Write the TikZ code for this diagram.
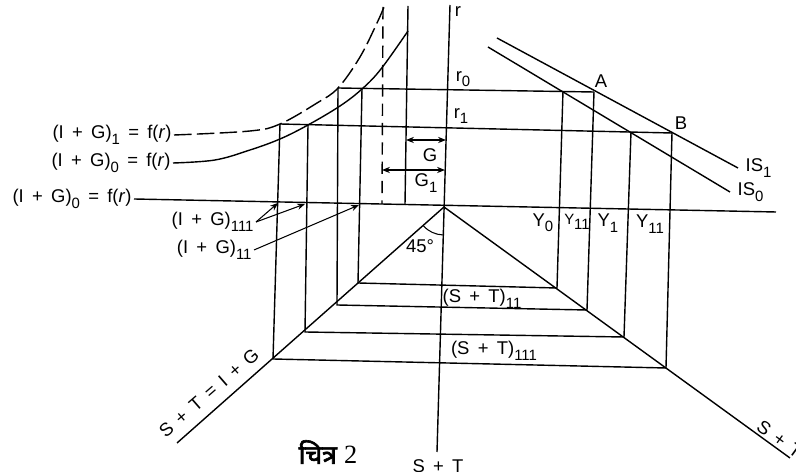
\documentclass[tikz,border=0pt]{standalone}
\usepackage{fontspec}
\setmainfont{Liberation Sans}
\newfontfamily\devfont[Script=Devanagari, AutoFakeBold=2.5]{Noto Sans}
\newfontfamily\capfont{Liberation Serif}
\usetikzlibrary{positioning, arrows.meta}

\newcommand{\lo}[1]{\raisebox{-0.55ex}{\fontsize{8.5}{9}\selectfont #1}}
\newcommand{\lblfont}{\fontsize{10.5}{12}\selectfont\spaceskip=0.45em plus 0.1em\relax}

\begin{document}
\begin{tikzpicture}[x=0.02cm, y=-0.02cm, line width=0.8pt,
  lbl/.style={font=\lblfont, inner sep=1pt},
  dbl/.style={{Stealth[length=4.5pt,width=3.5pt]}-{Stealth[length=4.5pt,width=3.5pt]}, line width=0.7pt},
  ptr/.style={-{Stealth[length=4.5pt,width=3.5pt]}, line width=0.6pt}]
\useasboundingbox (0,0) rectangle (796,472);

\coordinate (O) at (444,207);
\coordinate (rtop) at (450,5);
\coordinate (rbot) at (437,452);
\coordinate (yend) at (776,212);
\coordinate (lend) at (177,443);
\coordinate (rend) at (790,458);

\coordinate (t1) at (362,89);
\coordinate (t2) at (338,88);
\coordinate (t3) at (308,125);
\coordinate (t4) at (280,124);
\coordinate (p1) at (358,283);
\coordinate (p2) at (337,305);
\coordinate (p3) at (305,332);
\coordinate (p4) at (273,359);

\coordinate (u1) at (563,91);
\coordinate (A) at (594,92);
\coordinate (u3) at (631,132);
\coordinate (B) at (672,133);
\coordinate (q1) at (557,288);
\coordinate (q2) at (587,310);
\coordinate (q3) at (624,337);
\coordinate (q4) at (666,368);

\coordinate (is1s) at (497,38);
\coordinate (is1e) at (738,168);
\coordinate (is0s) at (488,47);
\coordinate (is0e) at (730,192);

\coordinate (dtop) at (383,7);
\coordinate (dbot) at (382,204);
\coordinate (gtop) at (408,6);
\coordinate (gbot) at (405,205);
\coordinate (ga) at (406,140);
\coordinate (gb) at (446,140);
\coordinate (g1a) at (382,170);
\coordinate (g1b) at (445,170);
\coordinate (c4) at (278,203);
\coordinate (c3) at (305,204);
\coordinate (c1) at (359,205);

\node[lbl, anchor=east] (fIG1) at (174,135) {(I + G)\lo{1} = f(\textit{r})};
\node[lbl, anchor=east] (fIG0) at (173,163) {(I + G)\lo{0} = f(\textit{r})};
\node[lbl, anchor=east] (fIG0b) at (134,199) {(I + G)\lo{0} = f(\textit{r})};
\node[lbl, anchor=east] (IG111) at (256,222) {(I + G)\lo{111}};
\node[lbl, anchor=east] (IG11) at (254,250) {(I + G)\lo{11}};

\draw (rtop) -- (rbot);
\draw (fIG0b.east) -- (yend);
\draw (O) -- (lend);
\draw (O) -- (rend);

\draw (t2) -- (A);
\draw (t4) -- (B);
\draw (t1) -- (p1) -- (q1) -- (u1);
\draw (t2) -- (p2) -- (q2) -- (A);
\draw (t3) -- (p3) -- (q3) -- (u3);
\draw (t4) -- (p4) -- (q4) -- (B);

\draw (is1s) -- (is1e);
\draw (is0s) -- (is0e);

\draw[dashed, dash pattern=on 10pt off 3pt] plot[smooth, tension=0.6] coordinates
  {(fIG1.east) (250,131) (t4) (317,103) (t2) (360,57) (377,23) (384,7)};
\draw plot[smooth, tension=0.6] coordinates
  {(fIG0.east) (215,160) (250,150) (280,139) (t3) (340,106) (t1) (381,69) (gtop|-0,31)};

\draw[dashed, dash pattern=on 7pt off 4pt] (dtop) -- (dbot);
\draw (gtop) -- (gbot);
\draw[dbl] (ga) -- (gb);
\draw[dbl] (g1a) -- (g1b);

\draw[ptr] (IG111.east) -- (c4);
\draw[ptr] (IG111.east) -- (c3);
\draw[ptr] (IG11.east) -- (c1);

\draw[line width=0.6pt] ([shift={(222:0.56cm)}]O) arc[start angle=222, end angle=268, radius=0.56cm];

\node[lbl] (rlab) at (458,12) {r};
\node[lbl] (r0lab) at (463,79) {r\lo{0}};
\node[lbl] (r1lab) at (461,116) {r\lo{1}};
\node[lbl] (Glab) at (430,155) {G};
\node[lbl] (G1lab) at (426,183) {G\lo{1}};
\node[lbl] (Alab) at (601,81) {A};
\node[lbl] (Blab) at (681,123) {B};
\node[lbl, right=3pt of is1e] (IS1) {IS\lo{1}};
\node[lbl, right=3pt of is0e] (IS0) {IS\lo{0}};
\node[lbl] (Y0) at (543,223) {Y\lo{0}};
\node[lbl, font=\fontsize{8.5}{10}\selectfont] (Y11a) at (577,222) {Y\lo{11}};
\node[lbl] (Y1) at (608,223) {Y\lo{1}};
\node[lbl] (Y11b) at (650,224) {Y\lo{11}};
\node[lbl] (deg) at (420,246) {45°};
\node[lbl] (ST11) at (482,299) {(S + T)\lo{11}};
\node[lbl] (ST111) at (494,351) {(S + T)\lo{111}};
\node[lbl, rotate=41] (STl) at (209,393) {S + T = I + G};
\node[lbl, rotate=-36, anchor=west] (STr) at (757,423) {S + T = I + G};
\node[lbl] (STb) at (438,466) {S + T};
\node (cap) at (328,452) {\fontsize{15}{17}\selectfont{\devfont\bfseries चित्र}~{\capfont 2}};

\end{tikzpicture}
\end{document}
